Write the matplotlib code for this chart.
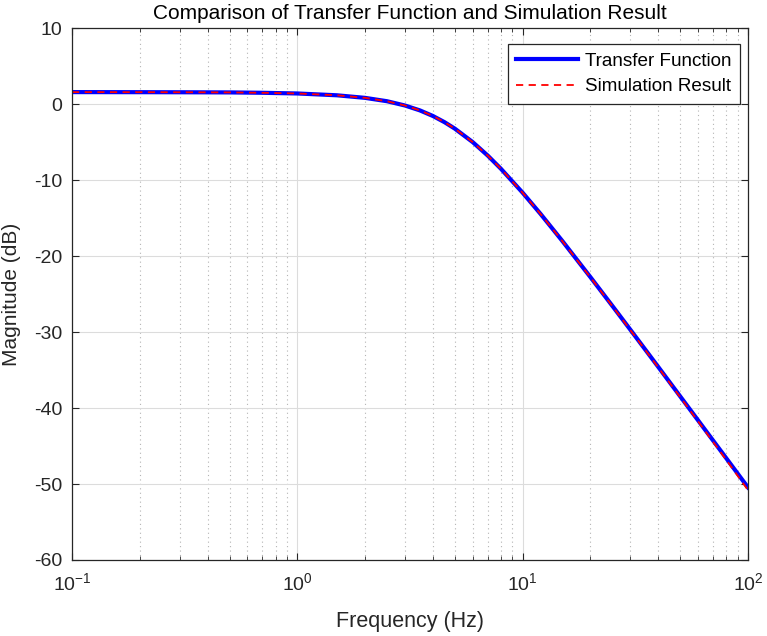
import matplotlib
matplotlib.use("Agg")
import matplotlib.pyplot as plt
from matplotlib.ticker import LogLocator, NullFormatter

# 주파수(Hz)와 크기(dB) - 그림에서 읽은 값
freq = [0.1, 0.2, 0.3, 0.5, 0.7, 1, 1.5, 2, 2.5, 3, 3.5, 4, 4.5, 5, 6, 7, 8,
        10, 12, 15, 20, 25, 30, 40, 50, 60, 70, 80, 100]
tf_mag = [1.60, 1.59, 1.58, 1.56, 1.51, 1.42, 1.18, 0.84, 0.40, -0.16, -0.81,
          -1.55, -2.36, -3.21, -4.98, -6.76, -8.48, -11.65, -14.43, -18.00,
          -22.77, -26.54, -29.65, -34.59, -38.45, -41.60, -44.27, -46.58, -50.45]
sim_mag = [1.60, 1.59, 1.58, 1.56, 1.51, 1.42, 1.18, 0.84, 0.40, -0.16, -0.81,
           -1.55, -2.36, -3.21, -4.98, -6.76, -8.48, -11.66, -14.44, -18.02,
           -22.80, -26.58, -29.70, -34.66, -38.55, -41.74, -44.45, -46.80, -50.80]

plt.rcParams['font.family'] = ['Liberation Sans', 'DejaVu Sans']
plt.rcParams['axes.unicode_minus'] = False  # MATLAB처럼 하이픈 사용

fig = plt.figure(figsize=(7.67, 6.36), dpi=100)
ax = fig.add_axes([0.0939, 0.1195, 0.8813, 0.836])

ax.semilogx(freq, tf_mag, color='#0000ff', linewidth=3, label='Transfer Function')
ax.semilogx(freq, sim_mag, color='#ff0000', linewidth=1.3, linestyle=(0, (4, 3)),
            label='Simulation Result')

ax.set_xlim(0.1, 100)
ax.set_ylim(-60, 10)
ax.set_yticks(range(-60, 11, 10))
ax.xaxis.set_minor_locator(LogLocator(base=10, subs=range(2, 10)))
ax.xaxis.set_minor_formatter(NullFormatter())

# MATLAB 스타일 그리드
ax.grid(True, which='major', color='#dcdcdc', linewidth=0.8, linestyle='-')
ax.grid(True, which='minor', axis='x', color='#b4b4b4', linewidth=0.8, linestyle=(0, (1, 3)))
ax.set_axisbelow(True)

ax.tick_params(which='both', direction='in', top=True, right=True, labelsize=14, colors='#262626')
ax.tick_params(which='major', length=5)
ax.tick_params(which='minor', length=3)
ax.tick_params(axis='x', pad=9)
ax.tick_params(axis='y', pad=7)
for s in ax.spines.values():
    s.set_color('#262626')
    s.set_linewidth(0.9)

ax.set_xlabel('Frequency (Hz)', fontsize=15.5, color='#262626', labelpad=12)
ax.set_ylabel('Magnitude (dB)', fontsize=15, color='#262626')
ax.yaxis.set_label_coords(-0.075, 0.5)
ax.set_title('Comparison of Transfer Function and Simulation Result', fontsize=15, color='black', pad=6.5)

leg = ax.legend(loc='upper right', bbox_to_anchor=(740 / 767, 1 - 44 / 636),
                bbox_transform=fig.transFigure, borderaxespad=0, fontsize=13.6,
                fancybox=False, framealpha=1, edgecolor='#262626',
                handlelength=3.3, handletextpad=0.35, labelspacing=0.45, borderpad=0.45)
leg.get_frame().set_linewidth(0.9)

fig.savefig('out.png', dpi=100)
